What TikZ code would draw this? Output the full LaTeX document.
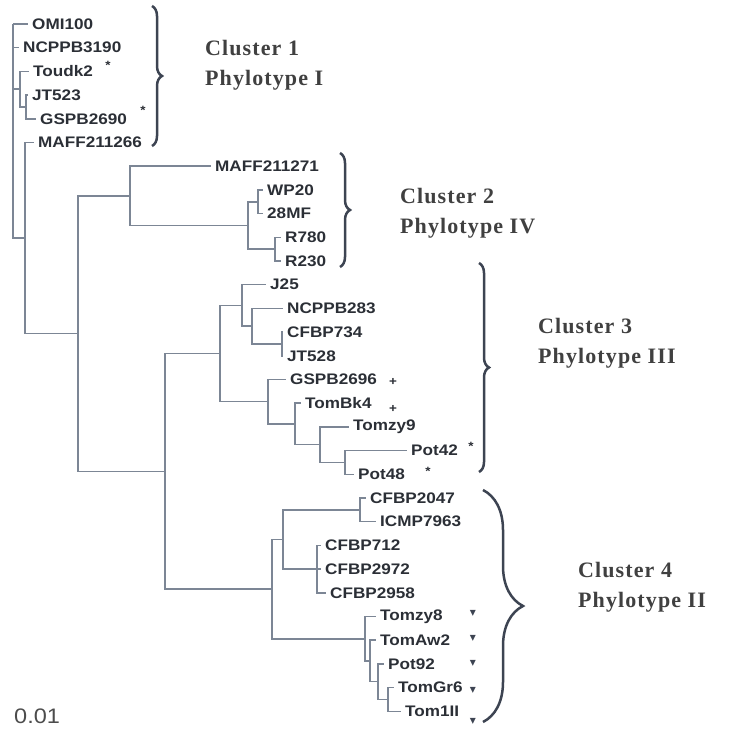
\documentclass[tikz,border=0pt]{standalone}
\usepackage{fontspec}
\setmainfont{Liberation Serif}
\newfontfamily\leaffont[FakeStretch=1.12]{Liberation Sans}
\newfontfamily\clusterfont[LetterSpace=5]{Liberation Serif}
\newfontfamily\symfont{DejaVu Sans}
\usetikzlibrary{decorations.pathreplacing}
\definecolor{branch}{HTML}{7C8695}
\definecolor{bracket}{HTML}{3D4452}
\definecolor{labeltext}{HTML}{2B2F36}

\begin{document}
\begin{tikzpicture}[
  x=1pt, y=-1pt,
  edge/.style={draw=branch, line width=1.5pt},
  leaf/.style={anchor=west, inner xsep=4pt, inner ysep=1pt, text=labeltext, font=\leaffont\bfseries\fontsize{15.3}{16}\selectfont},
  flag/.style={inner sep=0pt, text=labeltext, font=\leaffont\bfseries\fontsize{12}{12}\selectfont},
  tri/.style={inner sep=0pt, text=bracket, font=\symfont\fontsize{12}{12}\selectfont},
  clabel/.style={anchor=west, inner sep=0pt, align=left, text=black!75, font=\clusterfont\bfseries\fontsize{22}{30}\selectfont},
  bracebar/.style={draw=bracket, line width=2.5pt, decorate, decoration={brace, amplitude=#1}}
]
\useasboundingbox (0,0) rectangle (729,735);

% leaves, top to bottom
\node[leaf] (OMI100) at (28,24) {OMI100};
\node[leaf] (NCPPB3190) at (19,47.7) {NCPPB3190};
\node[leaf] (Toudk2) at (29,71.4) {Toudk2};
\node[leaf] (JT523) at (28,95.1) {JT523};
\node[leaf] (GSPB2690) at (36,118.8) {GSPB2690};
\node[leaf] (MAFF211266) at (34,142.5) {MAFF211266};
\node[leaf] (MAFF211271) at (211,166.2) {MAFF211271};
\node[leaf] (WP20) at (263,189.9) {WP20};
\node[leaf] (28MF) at (263,213.6) {28MF};
\node[leaf] (R780) at (281,237.3) {R780};
\node[leaf] (R230) at (281,261) {R230};
\node[leaf] (J25) at (266,284.7) {J25};
\node[leaf] (NCPPB283) at (283,308.4) {NCPPB283};
\node[leaf] (CFBP734) at (283,332.1) {CFBP734};
\node[leaf] (JT528) at (283,355.8) {JT528};
\node[leaf] (GSPB2696) at (286,379.5) {GSPB2696};
\node[leaf] (TomBk4) at (301,403.2) {TomBk4};
\node[leaf] (Tomzy9) at (349,426.9) {Tomzy9};
\node[leaf] (Pot42) at (407,450.6) {Pot42};
\node[leaf] (Pot48) at (354,474.3) {Pot48};
\node[leaf] (CFBP2047) at (366,498) {CFBP2047};
\node[leaf] (ICMP7963) at (376,521.7) {ICMP7963};
\node[leaf] (CFBP712) at (321,545.4) {CFBP712};
\node[leaf] (CFBP2972) at (321,569.1) {CFBP2972};
\node[leaf] (CFBP2958) at (326,592.8) {CFBP2958};
\node[leaf] (Tomzy8) at (376,616.5) {Tomzy8};
\node[leaf] (TomAw2) at (376,640.2) {TomAw2};
\node[leaf] (Pot92) at (384,663.9) {Pot92};
\node[leaf] (TomGr6) at (394,687.6) {TomGr6};
\node[leaf] (Tom1II) at (401,711.3) {Tom1II};

% inner nodes
\coordinate (n0) at (13,24);
\coordinate (n1s) at (20,89.2);
\coordinate (n1t) at (26,107);
\coordinate (n1) at (25,238.1);
\coordinate (nA) at (78,333.6);
\coordinate (n2) at (130,195.8);
\coordinate (n2a) at (248,225.5);
\coordinate (n2b) at (258,201.8);
\coordinate (n2c) at (275,249.2);
\coordinate (nR) at (165,471.4);
\coordinate (n3) at (220,353.6);
\coordinate (n3a) at (242,305.4);
\coordinate (n3b) at (252,326.2);
\coordinate (n3c) at (282,344);
\coordinate (n3e) at (268,401.7);
\coordinate (n3f) at (295,424);
\coordinate (n3g) at (320,444.7);
\coordinate (n3h) at (345,462.5);
\coordinate (n4) at (272,589.1);
\coordinate (n4a) at (283,539.5);
\coordinate (n4b) at (360,509.9);
\coordinate (n4c) at (317,569.1);
\coordinate (n4d) at (365,638.8);
\coordinate (n4e) at (370,661);
\coordinate (n4f) at (378,681.7);
\coordinate (n4g) at (388,699.5);

% cluster 1
\draw[edge] (n0) |- (OMI100) (n0) |- (NCPPB3190) (n0) |- (n1s) (n0) |- (n1);
\draw[edge] (n1s) |- (Toudk2) (n1s) |- (n1t);
\draw[edge] (n1t) |- (JT523) (n1t) |- (GSPB2690);
\draw[edge] (n1) |- (MAFF211266) (n1) |- (nA);
\draw[edge] (nA) |- (n2) (nA) |- (nR);
% cluster 2
\draw[edge] (n2) |- (MAFF211271) (n2) |- (n2a);
\draw[edge] (n2a) |- (n2b) (n2a) |- (n2c);
\draw[edge] (n2b) |- (WP20) (n2b) |- (28MF);
\draw[edge] (n2c) |- (R780) (n2c) |- (R230);
% cluster 3
\draw[edge] (nR) |- (n3) (nR) |- (n4);
\draw[edge] (n3) |- (n3a) (n3) |- (n3e);
\draw[edge] (n3a) |- (J25) (n3a) |- (n3b);
\draw[edge] (n3b) |- (NCPPB283) (n3b) |- (n3c);
\draw[edge] (n3c) |- (CFBP734) (n3c) |- (JT528);
\draw[edge] (n3e) |- (GSPB2696) (n3e) |- (n3f);
\draw[edge] (n3f) |- (TomBk4) (n3f) |- (n3g);
\draw[edge] (n3g) |- (Tomzy9) (n3g) |- (n3h);
\draw[edge] (n3h) |- (Pot42) (n3h) |- (Pot48);
% cluster 4
\draw[edge] (n4) |- (n4a) (n4) |- (n4d);
\draw[edge] (n4a) |- (n4b) (n4a) |- (n4c);
\draw[edge] (n4b) |- (CFBP2047) (n4b) |- (ICMP7963);
\draw[edge] (n4c) |- (CFBP712) (n4c) |- (CFBP2972) (n4c) |- (CFBP2958);
\draw[edge] (n4d) |- (Tomzy8) (n4d) |- (n4e);
\draw[edge] (n4e) |- (TomAw2) (n4e) |- (n4f);
\draw[edge] (n4f) |- (Pot92) (n4f) |- (n4g);
\draw[edge] (n4g) |- (TomGr6) (n4g) |- (Tom1II);

% marks beside some strains
\node[flag] (f1) at (108,65) {*};
\node[flag] (f2) at (143,110) {*};
\node[flag] (f3) at (393,382) {+};
\node[flag] (f4) at (393,409) {+};
\node[flag] (f5) at (471,446) {*};
\node[flag] (f6) at (428,471) {*};
\node[tri] (t1) at (473,613) {▾};
\node[tri] (t2) at (473,638) {▾};
\node[tri] (t3) at (473,663) {▾};
\node[tri] (t4) at (473,690) {▾};
\node[tri] (t5) at (473,721) {▾};

% brackets
\coordinate (c1top) at (152,6);
\coordinate (c1bot) at (152,146);
\coordinate (c2top) at (340,153);
\coordinate (c2bot) at (340,267);
\coordinate (c3top) at (479,263);
\coordinate (c3bot) at (479,472);
\coordinate (c4top) at (483,490);
\coordinate (c4bot) at (483,722);
\draw[bracebar=10pt] (c1top) -- (c1bot);
\draw[bracebar=10pt] (c2top) -- (c2bot);
\draw[bracebar=10pt] (c3top) -- (c3bot);
\draw[bracebar=40pt] (c4top) -- (c4bot);

\node[clabel] (cl1) at (205,65) {Cluster 1\\Phylotype I};
\node[clabel] (cl2) at (400,213.5) {Cluster 2\\Phylotype IV};
\node[clabel] (cl3) at (538,343.5) {Cluster 3\\Phylotype III};
\node[clabel] (cl4) at (578,587.5) {Cluster 4\\Phylotype II};

\node[anchor=west, inner sep=0pt, text=black!70, font=\leaffont\fontsize{21}{21}\selectfont] (scale) at (14,716) {0.01};
\end{tikzpicture}
\end{document}
